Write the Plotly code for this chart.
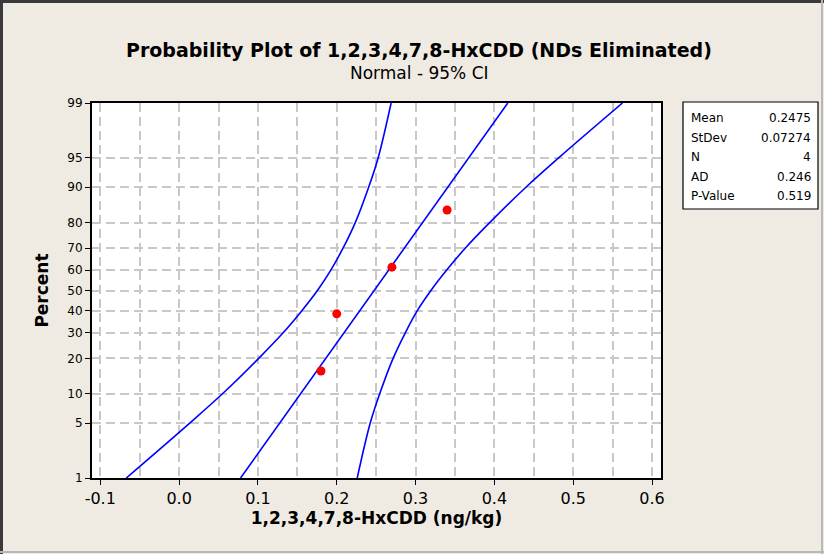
import plotly.graph_objects as go
from statistics import NormalDist

# data
values = [0.18, 0.20, 0.27, 0.34]
percent = [15.9, 38.6, 61.4, 84.1]

fit_x = [0.078, 0.417]
fit_pct = [1, 99]

ci_pct = [1, 5, 10, 20, 30, 40, 50, 60, 70, 80, 90, 95, 99]
ci_lower = [-0.067, 0.0135, 0.055, 0.101, 0.132, 0.1555, 0.1755, 0.1925, 0.208, 0.2235, 0.2405, 0.2525, 0.269]
ci_upper = [0.226, 0.2425, 0.2545, 0.2715, 0.287, 0.302, 0.3195, 0.3395, 0.363, 0.394, 0.44, 0.4815, 0.5625]

y_ticks = [1, 5, 10, 20, 30, 40, 50, 60, 70, 80, 90, 95, 99]
x_ticks = [-0.1, 0.0, 0.1, 0.2, 0.3, 0.4, 0.5, 0.6]

stat_names = ["Mean", "StDev", "N", "AD", "P-Value"]
stat_values = ["0.2475", "0.07274", "4", "0.246", "0.519"]

W, H = 824, 554
L, R, T, B = 92, 163, 103, 76
PW, PH = W - L - R, H - T - B


def px(x):
    return (x - L) / PW


def py(y):
    return (H - B - y) / PH


inv = NormalDist().inv_cdf


def to_z(p):
    return [inv(v / 100) for v in p]


FONT = "DejaVu Sans"
BLUE = "#0000FF"

fig = go.Figure()
fig.add_trace(go.Scatter(x=ci_lower, y=to_z(ci_pct), mode="lines", line=dict(color=BLUE, width=1.6, shape="spline", smoothing=1.0)))
fig.add_trace(go.Scatter(x=fit_x, y=to_z(fit_pct), mode="lines", line=dict(color=BLUE, width=1.6)))
fig.add_trace(go.Scatter(x=ci_upper, y=to_z(ci_pct), mode="lines", line=dict(color=BLUE, width=1.6, shape="spline", smoothing=1.0)))
fig.add_trace(go.Scatter(x=values, y=to_z(percent), mode="markers", marker=dict(color="#FF0000", size=9)))

grid = "#C8C8C8"
dash = "9px,5px"
fig.update_xaxes(
    range=[-0.1105, 0.6114], tickvals=x_ticks, ticktext=["%.1f" % v for v in x_ticks],
    ticks="outside", ticklen=5, tickcolor="black", showline=True, linecolor="black", linewidth=2, mirror=True,
    showgrid=True, gridcolor=grid, griddash=dash, gridwidth=1.5,
    minor=dict(dtick=0.05, tick0=0, showgrid=True, gridcolor=grid, griddash=dash, gridwidth=1.5),
    tickfont=dict(family=FONT, size=16, color="black"), zeroline=False,
    title=dict(text="<b>1,2,3,4,7,8-HxCDD (ng/kg)</b>", font=dict(family=FONT, size=17, color="black"), standoff=4),
)
fig.update_yaxes(
    range=[inv(0.01), inv(0.99)], tickvals=to_z(y_ticks), ticktext=[str(v) for v in y_ticks],
    ticks="outside", ticklen=5, tickcolor="black", showline=True, linecolor="black", linewidth=2, mirror=True,
    showgrid=True, gridcolor=grid, griddash=dash, gridwidth=1.5, zeroline=False,
    tickfont=dict(family=FONT, size=12, color="black"),
    title=dict(text="<b>Percent</b>", font=dict(family=FONT, size=17, color="black"), standoff=14),
)

shapes = [
    dict(type="rect", xref="paper", yref="paper", x0=px(683), x1=px(818), y0=py(102), y1=py(209),
         line=dict(color="black", width=1.2), fillcolor="white"),
    dict(type="line", xref="paper", yref="paper", x0=px(0), x1=px(W), y0=py(1.5), y1=py(1.5),
         line=dict(color="#3A3A3A", width=3)),
    dict(type="line", xref="paper", yref="paper", x0=px(1.5), x1=px(1.5), y0=py(0), y1=py(H),
         line=dict(color="#3A3A3A", width=3)),
    dict(type="line", xref="paper", yref="paper", x0=px(0), x1=px(W), y0=py(552), y1=py(552),
         line=dict(color="#B8B8B8", width=2)),
    dict(type="line", xref="paper", yref="paper", x0=px(822), x1=px(822), y0=py(0), y1=py(H),
         line=dict(color="#B8B8B8", width=2)),
]

annotations = [
    dict(text="<b>Probability Plot of 1,2,3,4,7,8-HxCDD (NDs Eliminated)</b>", x=px(419), y=py(50),
         xref="paper", yref="paper", xanchor="center", yanchor="middle", showarrow=False,
         font=dict(family=FONT, size=19, color="black")),
    dict(text="Normal - 95% CI", x=px(419), y=py(73), xref="paper", yref="paper", xanchor="center",
         yanchor="middle", showarrow=False, font=dict(family=FONT, size=17, color="black")),
]
for i, (name, val) in enumerate(zip(stat_names, stat_values)):
    yy = py(118 + i * 19.6)
    annotations.append(dict(text=name, x=px(689), y=yy, xref="paper", yref="paper", xanchor="left",
                            yanchor="middle", showarrow=False, font=dict(family=FONT, size=12, color="black")))
    annotations.append(dict(text=val, x=px(813), y=yy, xref="paper", yref="paper", xanchor="right",
                            yanchor="middle", showarrow=False, font=dict(family=FONT, size=12, color="black")))

fig.update_layout(
    width=W, height=H, margin=dict(l=L, r=R, t=T, b=B),
    paper_bgcolor="#EFEBE2", plot_bgcolor="white", showlegend=False,
    shapes=shapes, annotations=annotations,
)

# drop the default 8px body margin so the figure sits flush in the window
fig.write_html("out.html", config={"displayModeBar": False},
               post_script="document.body.style.margin='0';")
